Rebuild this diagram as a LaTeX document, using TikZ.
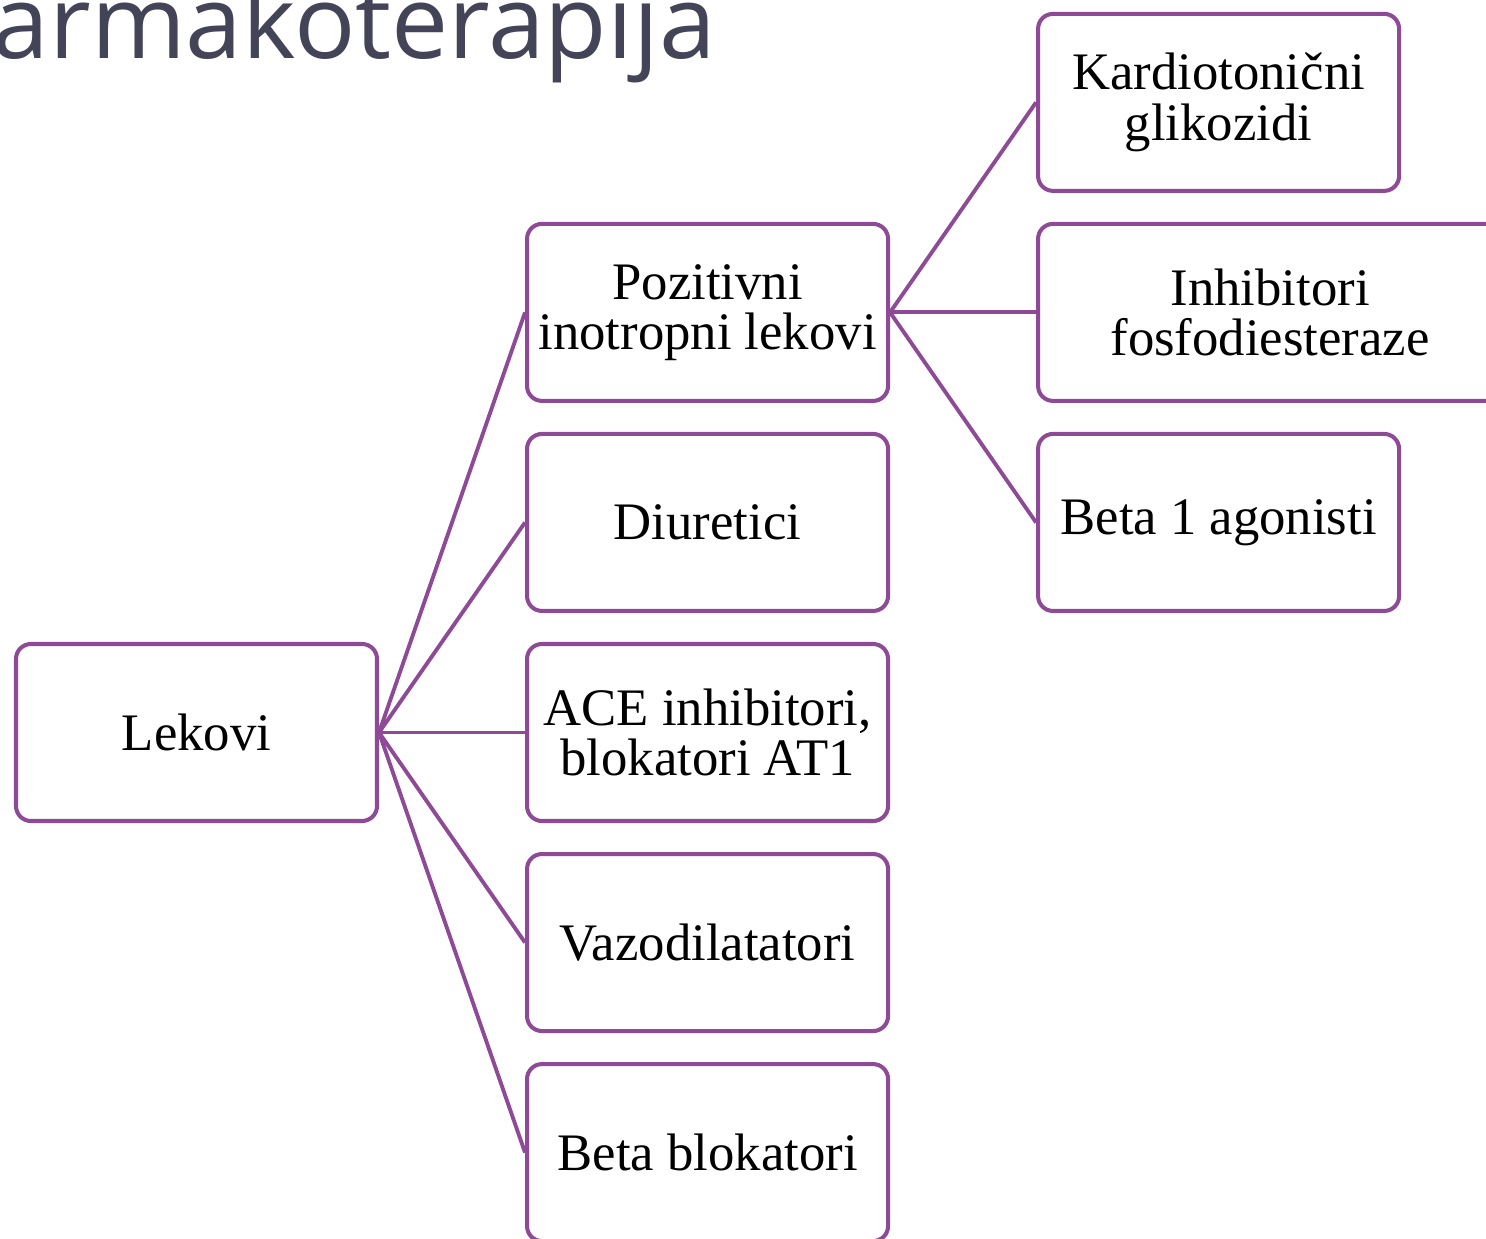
\documentclass[tikz,border=0pt]{standalone}
\usepackage{fontspec}
\setmainfont{Liberation Serif}
\newfontfamily\titlefont{Open Sans}
\usepackage{xcolor}
\usetikzlibrary{positioning}
\definecolor{lila}{RGB}{142,74,150}
\definecolor{slate}{RGB}{67,68,88}

\begin{document}
\begin{tikzpicture}[
  node distance=0.58cm and 2.92cm,
  box/.style ={rectangle,rounded corners=8.5pt,draw=lila,line width=2.3pt,fill=white,
               minimum width=7.22cm,minimum height=3.54cm,align=center,
               font=\fontsize{30}{28.5}\selectfont},
  widebox/.style={box,minimum width=9.28cm},
  link/.style={lila,line width=2.2pt},
  headfont/.style={font=\titlefont\fontsize{58}{60}\selectfont,text=slate},
]
\useasboundingbox (0,0) rectangle (29.72,-24.78);

%% ─── Title (cut by the page) ────────────────────────────────────────────────
\node[headfont,anchor=base west,inner sep=0pt] (title) at (-0.15,-1.18) {armakoterapija};

%% ─── Root and first level ───────────────────────────────────────────────────
\node[box] (lekovi) at (3.93,-14.65) {Lekovi};
\node[box, right=of lekovi] (ace)   {ACE inhibitori,\\blokatori AT1};
\node[box, above=of ace]    (diur)  {Diuretici};
\node[box, above=of diur]   (poz)   {Pozitivni\\inotropni lekovi};
\node[box, below=of ace]    (vazo)  {Vazodilatatori};
\node[box, below=of vazo]   (betab) {Beta blokatori};

\draw[link] (lekovi.east) -- (poz.west);
\draw[link] (lekovi.east) -- (diur.west);
\draw[link] (lekovi.east) -- (ace.west);
\draw[link] (lekovi.east) -- (vazo.west);
\draw[link] (lekovi.east) -- (betab.west);

%% ─── Second level ───────────────────────────────────────────────────────────
\node[widebox, right=of poz] (inhib) {Inhibitori\\fosfodiesteraze};
\node[box, above=of inhib.north west, anchor=south west] (kard)  {Kardiotonični\\glikozidi};
\node[box, below=of inhib.south west, anchor=north west] (beta1) {Beta 1 agonisti};

\draw[link] (poz.east) -- (kard.west);
\draw[link] (poz.east) -- (inhib.west);
\draw[link] (poz.east) -- (beta1.west);

\end{tikzpicture}
\end{document}
